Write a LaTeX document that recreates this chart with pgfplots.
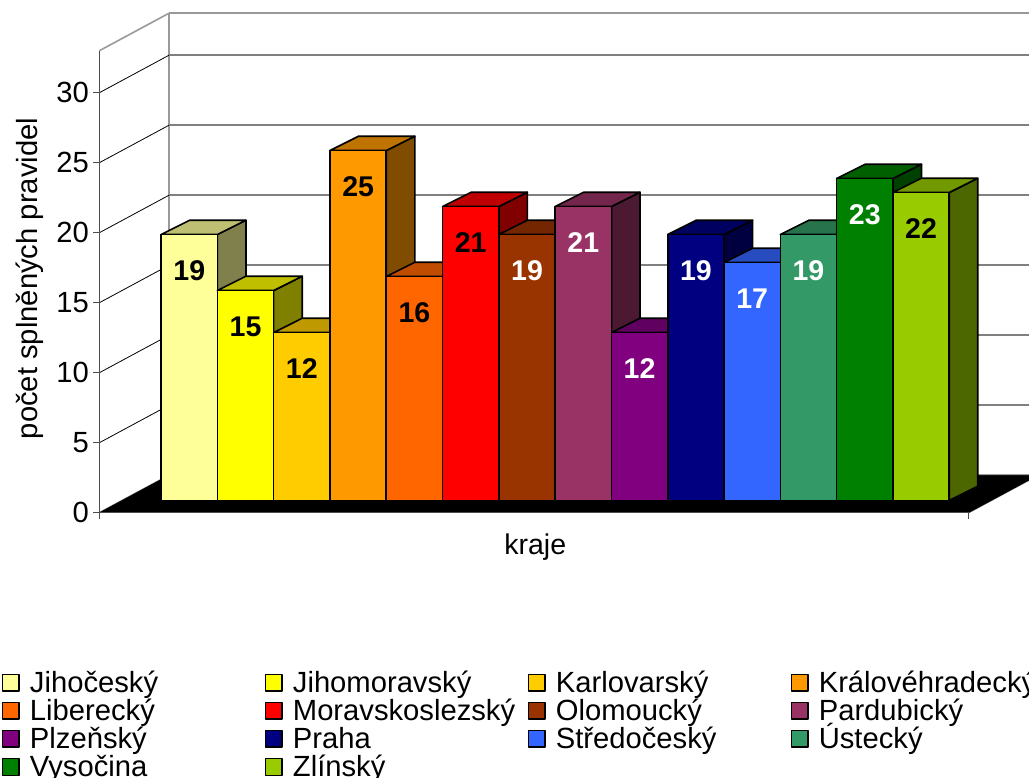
\documentclass[border=0pt]{standalone}
\usepackage{fontspec}
\setmainfont{Liberation Sans}
\usepackage{pgfplots}
\pgfplotsset{compat=1.18}

% 1 px of the reference = 0.75pt here
\newcommand{\chartfont}{\fontsize{21.4}{24}\selectfont}
\newcommand{\bigfont}{\fontsize{21.9}{24}\selectfont}
\newcommand{\lgitem}[1]{\makebox[176pt][l]{\smash{#1}\rule[-5.25pt]{0pt}{21pt}}}

\definecolor{cA}{HTML}{FFFF99}
\definecolor{cB}{HTML}{FFFF00}
\definecolor{cC}{HTML}{FFCC00}
\definecolor{cD}{HTML}{FF9900}
\definecolor{cE}{HTML}{FF6600}
\definecolor{cF}{HTML}{FF0000}
\definecolor{cG}{HTML}{993300}
\definecolor{cH}{HTML}{993366}
\definecolor{cI}{HTML}{800080}
\definecolor{cJ}{HTML}{000080}
\definecolor{cK}{HTML}{3366FF}
\definecolor{cL}{HTML}{339966}
\definecolor{cM}{HTML}{008000}
\definecolor{cN}{HTML}{99CC00}

\def\xlo{-0.694}
\def\xhi{14.744}
\def\xtk{-0.801}
\def\yfront{0.325}
\def\yback{0.707}

% side, top, front of one bar: position, value, colour, label colour, name
\newcommand{\krajbar}[5]{
  \pgfmathsetmacro{\xa}{#1+1}
  \pgfmathsetmacro{\xb}{#1+0.036}
  \pgfmathsetmacro{\xc}{#1+1.036}
  \pgfmathsetmacro{\za}{#2-2.6}
  \pgfmathsetmacro{\xm}{#1+0.5}
  \addplot3[forget plot,draw=black,line width=1.2pt,line join=round,fill=#3!50!black]
    coordinates {(\xa,\yfront,0) (\xc,\yback,0) (\xc,\yback,#2) (\xa,\yfront,#2)} -- cycle;
  \addplot3[forget plot,draw=black,line width=1.2pt,line join=round,fill=#3!75!black]
    coordinates {(#1,\yfront,#2) (\xa,\yfront,#2) (\xc,\yback,#2) (\xb,\yback,#2)} -- cycle;
  \addplot3[draw=black,line width=1.2pt,line join=round,fill=#3]
    coordinates {(#1,\yfront,0) (\xa,\yfront,0) (\xa,\yfront,#2) (#1,\yfront,#2)} -- cycle;
  \addlegendentry{\lgitem{#5}}
  % nodes are drawn at the end of the axis, so the numbers go in now
  \edef\barlabel{\noexpand\node[font=\noexpand\chartfont\noexpand\bfseries,text=#4]
    at (axis cs:\xm,\yfront,\za) {#2};}
  \barlabel
}

\begin{document}
\begin{tikzpicture}
\begin{axis}[
  x={(42.22pt,0pt)}, y={(52.1pt,28.05pt)}, z={(0pt,10.5pt)},
  xmin=\xlo, xmax=\xhi, ymin=0, ymax=1, zmin=0, zmax=33,
  clip=false,
  xtick=\empty, ytick=\empty, ztick={0,5,...,30},
  major tick length=0pt,
  tick style={draw=none},
  /pgf/number format/assume math mode=true,
  tick label style={font=\bigfont},
  z tick label style={anchor=east,xshift=-4.5pt,yshift=0pt},
  label style={font=\chartfont},
  axis line style={color=black!40,line width=1.2pt},
  xlabel={kraje},
  zlabel={počet splněných pravidel},
  xlabel style={xshift=9pt,yshift=-12pt},
  zlabel style={font=\bigfont,xshift=15pt,yshift=2pt},
  legend columns=4,
  legend style={draw=none,fill=none,font=\bigfont,inner sep=0pt,row sep=3.8pt,
    at={(rel axis cs:0,0,0)},anchor=north west,xshift=-73.5pt,yshift=-119pt,
    nodes={inner sep=0pt},
    /tikz/every odd column/.append style={column sep=7.5pt}},
  legend image code/.code={\draw[#1] (0pt,-6pt) rectangle (12.5pt,6.5pt);},
]
% walls
\pgfplotsinvokeforeach{5,10,...,30}{
  \addplot3[forget plot,black,line width=0.6pt] coordinates {(\xlo,0,#1) (\xlo,1,#1)};
  \addplot3[forget plot,black!50,line width=1.3pt] coordinates {(\xlo,1,#1) (\xhi,1,#1)};
}
% floor
\addplot3[forget plot,draw=black,fill=black] coordinates {(\xlo,0,0) (\xhi,0,0) (\xhi,1,0) (\xlo,1,0)} -- cycle;
% front axis lines and ticks
\addplot3[forget plot,black!70,line width=0.9pt] coordinates {(\xlo,0,-0.45) (\xlo,0,33)};
\addplot3[forget plot,black!70,line width=0.9pt] coordinates {(\xlo,0,0) (\xhi,0,0)};
\addplot3[forget plot,black!70,line width=0.8pt] coordinates {(\xhi,0,-0.45) (\xhi,0,0)};
\pgfplotsinvokeforeach{0,5,...,30}{
  \addplot3[forget plot,black!70,line width=0.8pt] coordinates {(\xtk,0,#1) (\xlo,0,#1)};
}

\krajbar{0}{19}{cA}{black}{Jihočeský}
\krajbar{1}{15}{cB}{black}{Jihomoravský}
\krajbar{2}{12}{cC}{black}{Karlovarský}
\krajbar{3}{25}{cD}{black}{Královéhradecký}
\krajbar{4}{16}{cE}{black}{Liberecký}
\krajbar{5}{21}{cF}{black}{Moravskoslezský}
\krajbar{6}{19}{cG}{white}{Olomoucký}
\krajbar{7}{21}{cH}{white}{Pardubický}
\krajbar{8}{12}{cI}{white}{Plzeňský}
\krajbar{9}{19}{cJ}{white}{Praha}
\krajbar{10}{17}{cK}{white}{Středočeský}
\krajbar{11}{19}{cL}{white}{Ústecký}
\krajbar{12}{23}{cM}{white}{Vysočina}
\krajbar{13}{22}{cN}{black}{Zlínský}

\coordinate (org) at (axis cs:\xlo,0,0);
\end{axis}
\pgfresetboundingbox
\path ([shift={(-74.6pt,-199pt)}]org) rectangle ([shift={(697.15pt,384.5pt)}]org);
\end{tikzpicture}
\end{document}
